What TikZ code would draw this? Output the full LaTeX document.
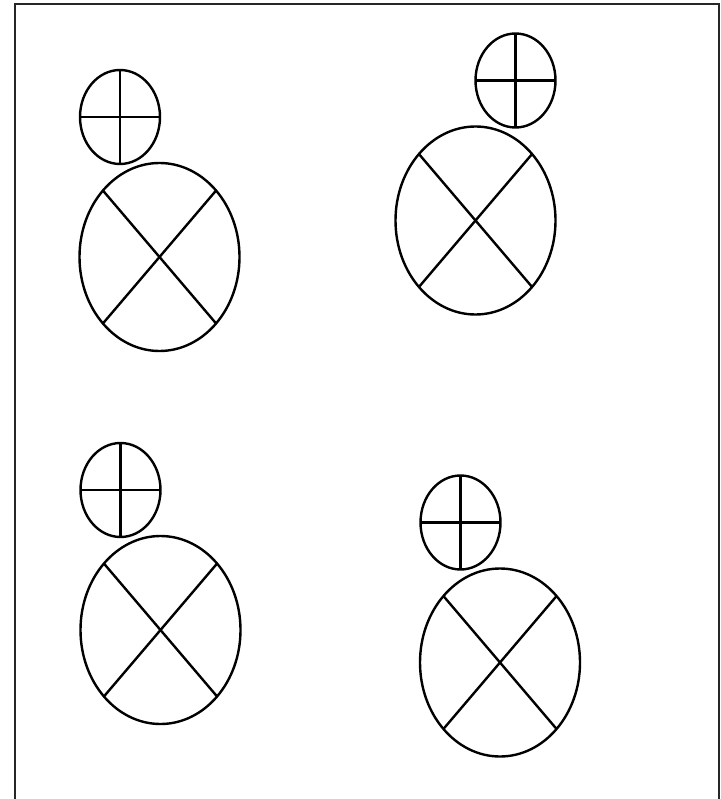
\documentclass[tikz,border=0pt]{standalone}
\begin{document}
\begin{tikzpicture}[x=1pt,y=-1pt,
  frameline/.style={draw=black!85,line width=2pt},
  shapeline/.style={draw=black,line width=2.4pt},
  pics/figure/.style args={#1/#2}{code={
    % small head ellipse at origin, body ellipse offset by (#1,#2)
    \draw[shapeline] (0,0) ellipse [x radius=40,y radius=47];
    \draw[shapeline] (0,-47) -- (0,47);
    \draw[shapeline] (-40,0) -- (40,0);
    \begin{scope}[shift={(#1,#2)}]
      \draw[shapeline] (0,0) ellipse [x radius=80,y radius=94];
      \draw[shapeline] ({-80*cos(45)},{-94*sin(45)}) -- ({80*cos(45)},{94*sin(45)});
      \draw[shapeline] ({80*cos(45)},{-94*sin(45)}) -- ({-80*cos(45)},{94*sin(45)});
    \end{scope}
  }}]
\useasboundingbox (0,0) rectangle (720,799);
\draw[frameline] (15,810) -- (15,4) -- (719,4) -- (719,810);
\pic at (120,117) {figure={39.5/140}};
\pic at (515.5,80.5) {figure={-40/140}};
\pic at (120.5,490) {figure={40/140}};
\pic at (460.5,522.5) {figure={39.5/140}};
\end{tikzpicture}
\end{document}
